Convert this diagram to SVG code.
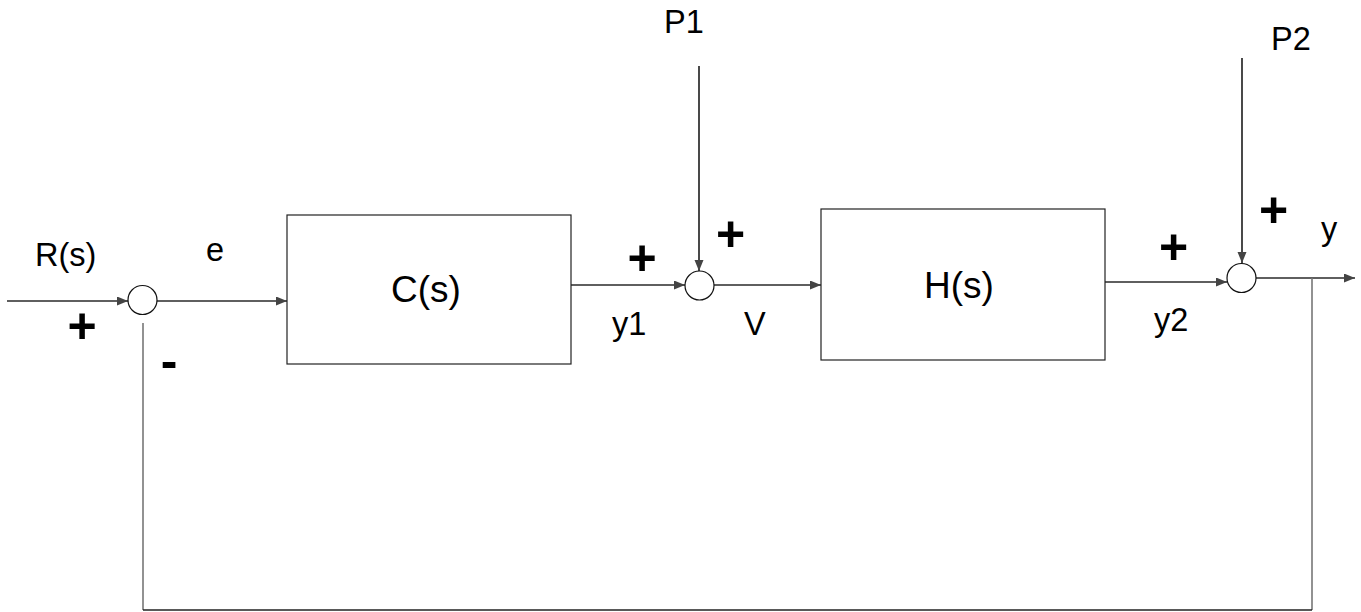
<svg xmlns="http://www.w3.org/2000/svg" width="1361" height="612" viewBox="0 0 1361 612">
<style>
.lbl{font-family:"Liberation Sans",Arial,sans-serif;font-size:32.5px;fill:#000}
.blk{font-family:"Liberation Sans",Arial,sans-serif;font-size:37px;fill:#000}
.sgn{font-family:"Liberation Sans",Arial,sans-serif;font-size:50px;font-weight:bold;fill:#000;text-anchor:middle}
.box{fill:#fff;stroke:#222;stroke-width:1.2}
.sum{fill:#fff;stroke:#111;stroke-width:1.2}
.w{fill:none;stroke:#2a2a2a;stroke-width:1.7}
.fb{fill:none;stroke:#777;stroke-width:1.6}
</style>
<defs>
<marker id="ah" markerUnits="userSpaceOnUse" markerWidth="12" markerHeight="10" refX="11" refY="4.5" orient="auto">
<path d="M0,0 L11,4.5 L0,9 z" fill="#444"/>
</marker>
</defs>
<g id="connectors">
<line class="w" x1="7" y1="301" x2="128" y2="301" marker-end="url(#ah)"/>
<line class="w" x1="157" y1="301" x2="287" y2="301" marker-end="url(#ah)"/>
<line class="w" x1="571" y1="285" x2="685" y2="285" marker-end="url(#ah)"/>
<line class="w" x1="699" y1="66" x2="699" y2="271" marker-end="url(#ah)"/>
<line class="w" x1="714" y1="285" x2="821" y2="285" marker-end="url(#ah)"/>
<line class="w" x1="1105" y1="282" x2="1227" y2="282" marker-end="url(#ah)"/>
<line class="w" x1="1242" y1="58" x2="1242" y2="263" marker-end="url(#ah)"/>
<line class="w" x1="1256" y1="278" x2="1355" y2="278" marker-end="url(#ah)"/>
<polyline class="fb" points="1312,278 1312,610"/>
<polyline class="fb" points="143,323 143,610"/>
<line x1="143" y1="610" x2="1312" y2="610" stroke="#222" stroke-width="1.4"/>
</g>
<g id="sum1"><circle class="sum" cx="142.5" cy="300" r="14.5"/></g>
<g id="sum2"><circle class="sum" cx="699.5" cy="285.5" r="14.5"/></g>
<g id="sum3"><circle class="sum" cx="1241.5" cy="278" r="14.5"/></g>
<g id="C"><rect class="box" x="287" y="215" width="284" height="149"/><text class="blk" x="391" y="302">C(s)</text></g>
<g id="H"><rect class="box" x="821" y="209" width="284" height="151"/><text class="blk" x="924" y="298">H(s)</text></g>
<g id="labels">
<text class="lbl" x="35" y="266">R(s)</text>
<text class="lbl" x="206" y="261">e</text>
<text class="lbl" x="612" y="335">y1</text>
<text class="lbl" x="744" y="335">V</text>
<text class="lbl" x="1154" y="331">y2</text>
<text class="lbl" x="1321" y="240">y</text>
<text class="lbl" x="664" y="33">P1</text>
<text class="lbl" x="1271" y="50">P2</text>
<text class="sgn" x="82" y="343">+</text>
<text class="sgn" x="169" y="378">-</text>
<text class="sgn" x="642" y="275">+</text>
<text class="sgn" x="730.5" y="251">+</text>
<text class="sgn" x="1173.5" y="264">+</text>
<text class="sgn" x="1273.5" y="227">+</text>
</g>
</svg>
